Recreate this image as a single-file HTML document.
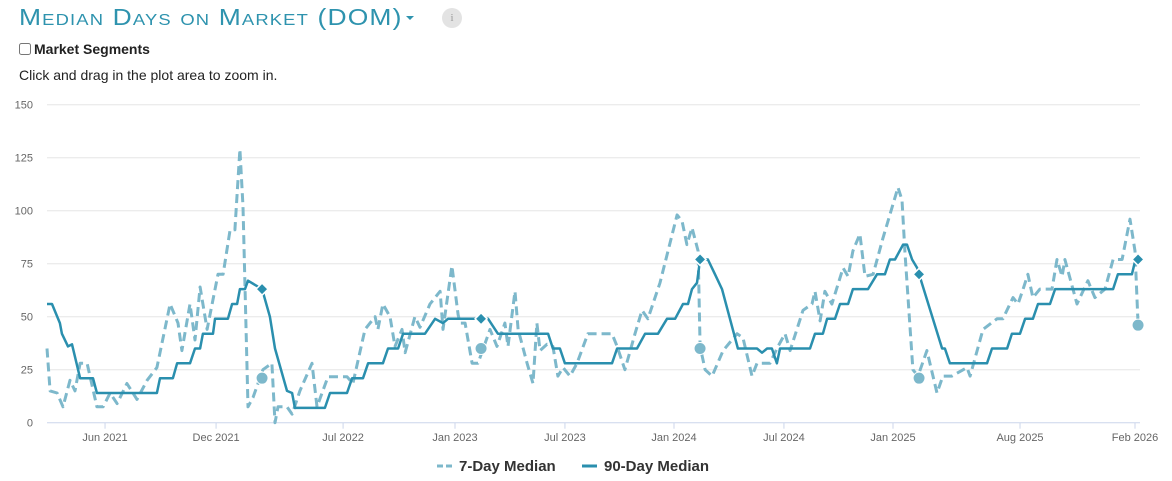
<!DOCTYPE html>
<html><head><meta charset="utf-8">
<style>
body{margin:0;background:#fff;font-family:"Liberation Sans",Arial,sans-serif;}
#wrap{position:relative;width:1172px;height:481px;overflow:hidden;}
.title{position:absolute;left:19px;top:4px;font-size:23px;color:#2e93ae;font-variant:small-caps;letter-spacing:1px;font-family:"Liberation Sans",sans-serif;transform-origin:0 0;transform:scaleX(1.15);white-space:nowrap;}
.caret{position:absolute;left:406px;top:16px;width:0;height:0;border-left:4px solid transparent;border-right:4px solid transparent;border-top:4px solid #2e93ae;}
.info{position:absolute;left:442px;top:8px;width:20px;height:20px;border-radius:50%;background:#e3e3e3;color:#999;font-size:11px;text-align:center;line-height:20px;font-family:"Liberation Serif",serif;}
.seg{position:absolute;left:19px;top:41px;font-size:14px;font-weight:bold;color:#222;}
.seg input{margin:0 3px 0 0;width:12px;height:12px;vertical-align:-1px;}
.hint{position:absolute;left:19px;top:67px;font-size:14px;color:#222;}
svg{position:absolute;left:0;top:0;}
</style></head><body>
<div id="wrap">
<div class="title">Median Days on Market (DOM)</div>
<div class="caret"></div>
<div class="info">i</div>
<label class="seg"><input type="checkbox">Market Segments</label>
<div class="hint">Click and drag in the plot area to zoom in.</div>
<svg id="chart" width="1172" height="481"></svg>
</div>
<script>
const yTicks=[0,25,50,75,100,125,150];
const xTickLabels=["Jun 2021","Dec 2021","Jul 2022","Jan 2023","Jul 2023","Jan 2024","Jul 2024","Jan 2025","Aug 2025","Feb 2026"];
const xTickTimes=[2021.402,2021.909,2022.489,2023.0,2023.502,2024.0,2024.502,2025.0,2025.58,2026.105];
const t90=[2021.137,2021.160,2021.196,2021.205,2021.233,2021.251,2021.288,2021.347,2021.365,2021.639,2021.653,2021.712,2021.731,2021.790,2021.813,2021.836,2021.849,2021.895,2021.904,2021.963,2021.982,2022.005,2022.018,2022.041,2022.055,2022.119,2022.155,2022.178,2022.233,2022.256,2022.269,2022.406,2022.429,2022.507,2022.530,2022.580,2022.603,2022.671,2022.694,2022.740,2022.763,2022.863,2022.909,2022.945,2022.968,2023.082,2023.119,2023.151,2023.196,2023.425,2023.447,2023.479,2023.502,2023.717,2023.740,2023.831,2023.868,2023.927,2023.968,2024.005,2024.041,2024.064,2024.082,2024.105,2024.119,2024.155,2024.187,2024.219,2024.292,2024.379,2024.402,2024.425,2024.447,2024.470,2024.484,2024.621,2024.644,2024.680,2024.699,2024.735,2024.758,2024.795,2024.817,2024.886,2024.927,2024.963,2024.986,2025.009,2025.046,2025.064,2025.087,2025.110,2025.119,2025.224,2025.237,2025.260,2025.429,2025.452,2025.521,2025.543,2025.580,2025.603,2025.639,2025.662,2025.717,2025.740,2026.005,2026.027,2026.091,2026.105,2026.119];
const v90=[56,56,47,42,36,37,21,21,14,14,21,21,28,28,35,35,42,42,49,49,56,56,63,63,67,63,50,35,15,14,7,7,14,14,21,21,28,28,35,35,42,42,49,47,49,49,49,49,42,42,35,35,28,28,35,35,42,42,49,49,56,56,63,66,77,77,70,63,35,35,33,35,35,28,35,35,42,42,49,49,56,56,63,63,70,70,77,77,84,84,77,73,70,35,35,28,28,35,35,42,42,49,49,56,56,63,63,70,70,76,77];
const t7=[2021.137,2021.151,2021.183,2021.210,2021.242,2021.265,2021.288,2021.320,2021.365,2021.393,2021.425,2021.457,2021.502,2021.548,2021.594,2021.639,2021.699,2021.735,2021.753,2021.790,2021.813,2021.836,2021.868,2021.918,2021.941,2021.973,2021.995,2022.018,2022.032,2022.055,2022.078,2022.123,2022.164,2022.178,2022.192,2022.233,2022.256,2022.292,2022.347,2022.370,2022.420,2022.507,2022.534,2022.589,2022.612,2022.635,2022.648,2022.671,2022.703,2022.726,2022.758,2022.772,2022.817,2022.840,2022.886,2022.932,2022.945,2022.986,2023.014,2023.023,2023.046,2023.078,2023.105,2023.160,2023.192,2023.228,2023.242,2023.274,2023.288,2023.329,2023.356,2023.374,2023.388,2023.420,2023.447,2023.470,2023.493,2023.525,2023.557,2023.607,2023.717,2023.740,2023.776,2023.822,2023.854,2023.881,2023.936,2024.014,2024.037,2024.059,2024.082,2024.110,2024.119,2024.142,2024.174,2024.224,2024.288,2024.315,2024.356,2024.379,2024.438,2024.475,2024.507,2024.530,2024.589,2024.630,2024.644,2024.667,2024.689,2024.721,2024.772,2024.795,2024.817,2024.849,2024.872,2024.909,2024.954,2025.023,2025.041,2025.055,2025.091,2025.114,2025.155,2025.201,2025.228,2025.269,2025.338,2025.352,2025.411,2025.475,2025.502,2025.548,2025.571,2025.594,2025.616,2025.639,2025.671,2025.726,2025.749,2025.772,2025.785,2025.840,2025.890,2025.922,2025.968,2026.005,2026.046,2026.082,2026.105,2026.119];
const v7=[35,15,14,7.5,20,15,28,28,7.5,7.5,14,9,18.5,11,20,26,56,47,34,56,39,64,44,70,70,91,91,129,102,7.5,12,25,28,0,7.5,7.5,4,15,28,7.5,21.7,21.7,18.5,44,47,50,44,56,50,36,44,33,50,45,56,62,44,74,51,47,47,28,28,44,36,47,36,62,44,28,18.5,47,34,37,36,22,26,22,28,42,42,36,25,42,53,49,66,98,95,84,92,81,36,25,22,34,42,40,22,28,28,36,42,34,53,56,62,48,62,56,73,69,81,89,69,70,87,111,105,80,25,22,34,14,22,22,26,22,44,49,49,59,56,63,70,59,63,63,77,69,77,56,67,59,63,77,77,96,81,46];
const markerTimes=[2022.119,2023.119,2024.119,2025.119,2026.119];
const marker90=[63,49,77,70,77];
const marker7=[21,35,35,21,46];

const NS="http://www.w3.org/2000/svg";
const svg=document.getElementById('chart');
const X0=47,X1=1138,Y0=422.7,PXV=2.12;
function xs(t){return 17+(t-2021)*219;}
function ys(v){return Y0-v*PXV;}
function mk(tag,attrs){const e=document.createElementNS(NS,tag);for(const k in attrs)e.setAttribute(k,attrs[k]);svg.appendChild(e);return e;}
yTicks.forEach(v=>{
  if(v>0){const g=mk('line',{x1:X0,x2:1140,y1:ys(v),y2:ys(v),stroke:'#e6e6e6','stroke-width':1});
  
  }
  const t=mk('text',{x:33,y:ys(v)+4,'text-anchor':'end','font-size':11,fill:'#666','font-family':'Liberation Sans, sans-serif'});
  t.textContent=v;
  
  
});
const ax=mk('line',{x1:X0,x2:1140,y1:Y0,y2:Y0,stroke:'#ccd6eb','stroke-width':1});


xTickLabels.forEach((lab,i)=>{
  const x=xs(xTickTimes[i]);
  const tk=mk('line',{x1:x,x2:x,y1:Y0,y2:Y0+6,stroke:'#ccd6eb'});
  
  
  const t=mk('text',{x:x,y:441,'text-anchor':'middle','font-size':11,fill:'#666','font-family':'Liberation Sans, sans-serif'});
  t.textContent=lab;
  
  
});
function pathD(ts,vs){return ts.map((t,i)=>(i?'L':'M')+xs(t).toFixed(1)+','+ys(vs[i]).toFixed(1)).join('');}
const p7=mk('path',{d:pathD(t7,v7),fill:'none',stroke:'#7db8cb','stroke-width':3,'stroke-dasharray':'9,5','stroke-linejoin':'round'});


const p90=mk('path',{d:pathD(t90,v90),fill:'none',stroke:'#2a8fae','stroke-width':2.5,'stroke-linejoin':'round'});


markerTimes.forEach((t,i)=>{
  const c=mk('circle',{cx:xs(t),cy:ys(marker7[i]),r:6,fill:'#7db8cb',stroke:'#fff','stroke-width':1});
  
  
  const x=xs(t),y=ys(marker90[i]),r=6;
  const d=mk('path',{d:`M${x},${y-r}L${x+r},${y}L${x},${y+r}L${x-r},${y}Z`,fill:'#2a8fae',stroke:'#fff','stroke-width':1.5});
  
  
});
const lg=[{x:440,label:'7-Day Median',color:'#7db8cb',dash:'6,3',n:'legend-7-day'},{x:585,label:'90-Day Median',color:'#2a8fae',dash:'',n:'legend-90-day'}];
lg.forEach(l=>{
  const s=mk('line',{x1:l.x-3,x2:l.x+12,y1:466,y2:466,stroke:l.color,'stroke-width':3,'stroke-dasharray':l.dash});
  
  
  const t=mk('text',{x:l.x+19,y:471,'font-size':15,'font-weight':'bold',fill:'#333','font-family':'Liberation Sans, sans-serif'});
  t.textContent=l.label;
  
  
});
</script>
</body></html>
